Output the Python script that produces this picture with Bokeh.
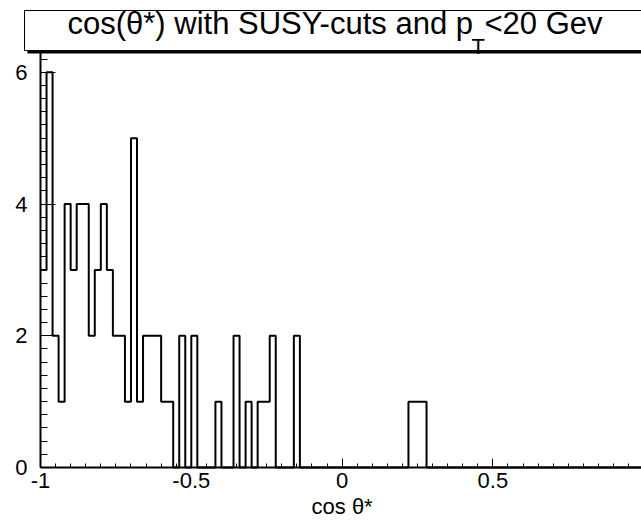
import numpy as np
from bokeh.plotting import figure
from bokeh.models import (Range1d, SingleIntervalTicker, CustomJSTickFormatter,
                          Label, ColumnDataSource)
from bokeh.embed import file_html
from bokeh.resources import INLINE

# ---- data -------------------------------------------------------------
title_main = "cos(θ*) with SUSY-cuts and p"
title_sub = "T"
title_tail = "<20 Gev"
x_title = "cos θ*"

bin_lo = -1.0
bin_hi = 1.0
n_bins = 100
counts = [3, 6, 2, 1, 4, 3, 4, 4, 2, 3,
          4, 3, 2, 2, 1, 5, 1, 2, 2, 2,
          1, 1, 0, 2, 0, 2, 0, 0, 0, 1,
          0, 0, 2, 0, 1, 0, 1, 1, 2, 0,
          0, 0, 2, 0, 0, 0, 0, 0, 0, 0,
          0, 0, 0, 0, 0, 0, 0, 0, 0, 0,
          0, 1, 1, 1, 0, 0, 0, 0, 0, 0,
          0, 0, 0, 0, 0, 0, 0, 0, 0, 0,
          0, 0, 0, 0, 0, 0, 0, 0, 0, 0,
          0, 0, 0, 0, 0, 0, 0, 0, 0, 0]
y_max = 6.3

FONT = "Liberation Sans"

# ---- layout geometry (pixels); the frame covers the whole canvas and both
# ---- axes are pinned at x=-1 / y=0 -------------------------------------
W, H = 641, 520
AXIS_X = 40             # window x of x=-1
PLOT_TOP = 52           # window y of y=y_max
PLOT_BOT = 467          # window y of y=0
PX_PER_X = 301.6
PX_PER_Y = (PLOT_BOT - PLOT_TOP) / y_max

x_start = bin_lo - AXIS_X / PX_PER_X
x_end = x_start + W / PX_PER_X
y_start = -(H - PLOT_BOT) / PX_PER_Y
y_end = PLOT_BOT / PX_PER_Y

edges = np.linspace(bin_lo, bin_hi, n_bins + 1)
step_y = counts + [counts[-1]]

p = figure(width=W, height=H, output_backend="svg", toolbar_location=None,
           x_range=Range1d(x_start, x_end), y_range=Range1d(y_start, y_end),
           min_border=0, min_border_left=0, min_border_right=0,
           min_border_top=0, min_border_bottom=0)
p.grid.visible = False
p.outline_line_color = None
p.background_fill_color = "white"
p.border_fill_color = "white"

src = ColumnDataSource(dict(x=edges, y=step_y))
p.step(x="x", y="y", source=src, mode="after", line_color="black", line_width=2)

fmt = CustomJSTickFormatter(code="return String(Math.round(tick*100)/100);")

p.xaxis.ticker = SingleIntervalTicker(interval=0.5, num_minor_ticks=10)
p.yaxis.ticker = SingleIntervalTicker(interval=2, num_minor_ticks=10)
for ax in (p.xaxis[0], p.yaxis[0]):
    ax.formatter = fmt
    ax.axis_line_color = "black"
    ax.axis_line_width = 2
    ax.major_tick_line_color = "black"
    ax.minor_tick_line_color = "black"
    ax.major_tick_line_width = 1
    ax.minor_tick_line_width = 1
    ax.major_tick_out = 0
    ax.minor_tick_out = 0
    ax.major_label_text_font = FONT
    ax.major_label_text_font_size = "22px"
    ax.major_label_text_color = "black"

p.xaxis.fixed_location = 0
p.xaxis.bounds = (bin_lo, bin_hi)
p.xaxis.major_tick_in = 9
p.xaxis.minor_tick_in = 4
p.xaxis.major_label_standoff = 5

p.yaxis.fixed_location = bin_lo
p.yaxis.bounds = (0, y_max)
p.yaxis.major_tick_in = 15
p.yaxis.minor_tick_in = 7
p.yaxis.major_label_standoff = 13

# ---- title box and texts (screen units, relative to canvas left/bottom) -
SHIFT_PER_PX = 11 / 31  # Label's alphabetic baseline renders lower than asked


def sx(wx):
    return wx


def sy(wy, size=0):
    return H - (wy - SHIFT_PER_PX * size)


shadow = Label(x=sx(27), y=sy(12), x_units="screen", y_units="screen", text=" ",
               text_font_size="1px", text_align="left", text_baseline="top",
               background_fill_color="black", background_fill_alpha=1.0,
               padding=dict(left=0, top=0, right=625, bottom=40))
box = Label(x=sx(24), y=sy(10), x_units="screen", y_units="screen", text=" ",
            text_font_size="1px", text_align="left", text_baseline="top",
            background_fill_color="white", background_fill_alpha=1.0,
            border_line_color="black", border_line_width=1,
            padding=dict(left=0, top=0, right=625, bottom=39))
p.add_layout(shadow)
p.add_layout(box)

p.add_layout(Label(x=sx(67), y=sy(34, 31), x_units="screen", y_units="screen",
                   text=title_main, text_font=FONT, text_font_size="31px",
                   text_color="black", text_align="left",
                   text_baseline="alphabetic"))
p.add_layout(Label(x=sx(471), y=sy(57, 31), x_units="screen", y_units="screen",
                   text=title_sub, text_font=FONT, text_font_size="22px",
                   text_color="black", text_align="left",
                   text_baseline="alphabetic"))
p.add_layout(Label(x=sx(602), y=sy(34, 31), x_units="screen", y_units="screen",
                   text=title_tail, text_font=FONT, text_font_size="31px",
                   text_color="black", text_align="right",
                   text_baseline="alphabetic"))

# x-axis title, centred on x = 0
p.add_layout(Label(x=0, y=sy(514, 22), y_units="screen", text=x_title,
                   text_font=FONT, text_font_size="22px", text_color="black",
                   text_align="center", text_baseline="alphabetic"))

open("out.html", "w").write(file_html(p, INLINE))
